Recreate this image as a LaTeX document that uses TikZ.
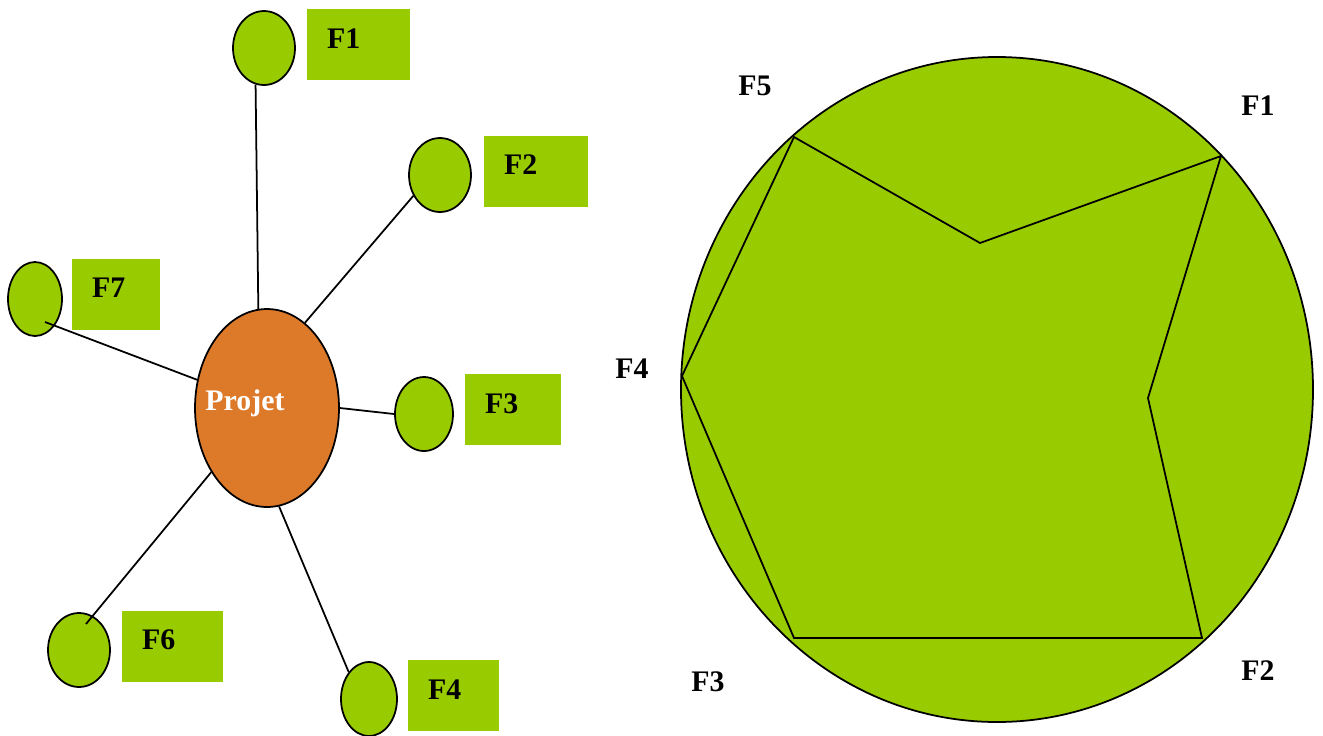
\documentclass[tikz,border=0pt]{standalone}
\usepackage{fontspec}
\setmainfont{Liberation Serif}
\usetikzlibrary{shapes.geometric, positioning, calc}
\definecolor{leaf}{RGB}{153,204,0}
\definecolor{rust}{RGB}{221,122,42}

\begin{document}
\begin{tikzpicture}[x=0.02cm, y=-0.02cm,
  bubble/.style={ellipse, draw, line width=1pt, fill=leaf, inner sep=0pt},
  hub/.style={ellipse, draw, line width=1pt, fill=rust, inner sep=0pt,
    minimum width=2.88cm, minimum height=3.96cm},
  tag/.style={fill=leaf, inner sep=0pt},
  word/.style={font=\bfseries\fontsize{17}{20}\selectfont, inner sep=0pt},
  link/.style={line width=1pt}]

\useasboundingbox (0,0) rectangle (1323,735);

% --- Left: project and its functions ---

% Central node
\node[hub] (projet) at (267,408) {};
\node[word, text=white] (projetlbl) at (245,403) {Projet};

% Function bubbles and their green tags
\foreach \n/\x/\y/\w/\bx/\by/\bw in {1/264/48/1.24/358.5/44.5/2.06,
    2/440/175/1.24/536/171/2.08,
    7/35/299/1.08/116/294/1.76,
    3/424/414/1.16/513/409.5/1.92,
    6/79/650/1.24/172.5/646/2.02,
    4/369/699/1.12/453.5/695.5/1.82}
{
    \node[bubble, minimum width=\w cm, minimum height=1.48cm] (f\n) at (\x,\y) {};
    \node[tag, minimum width=\bw cm, minimum height=1.42cm] (box\n) at (\bx,\by) {};
    \node[word, anchor=west] (lbl\n) at ([xshift=0.4cm, yshift=0.12cm]box\n.west) {F\n};
}

% Connectors
\draw[link] (f1.257) -- (projet.95);
\draw[link] (f2.218) -- (projet.66);
\draw[link] (projet.158) -- ([xshift=0.2cm, yshift=-0.46cm]f7.center);
\draw[link] (projet.east) -- (f3.west);
\draw[link] (projet.229) -- ([xshift=0.14cm, yshift=0.52cm]f6.center);
\draw[link] (projet.277) -- (f4.127);

% --- Right: radar of the functions ---
\draw[line width=1pt, fill=leaf] (997,389.5) ellipse [x radius=316, y radius=332.5];
\draw[line width=1pt, line join=miter] (794,137) -- (980,243) -- (1221,156) -- (1148,398)
    -- (1202,638) -- (794,638) -- (682,376) -- cycle;

% Axis labels
\node[word] (r5) at (755,86) {F5};
\node[word] (r1) at (1258,106) {F1};
\node[word] (r4) at (632,369) {F4};
\node[word] (r3) at (708,682) {F3};
\node[word] (r2) at (1258,671) {F2};

\end{tikzpicture}
\end{document}
